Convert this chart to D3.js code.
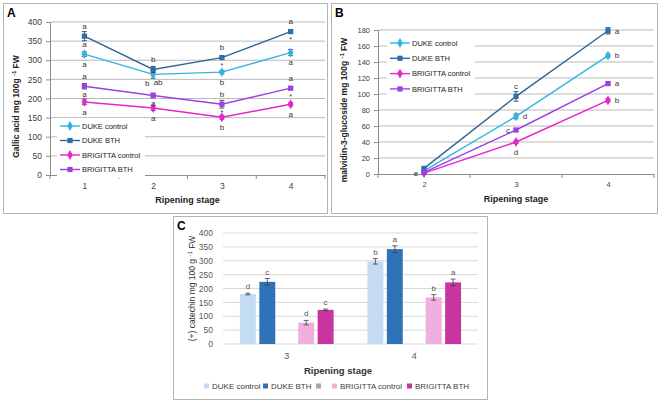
<!DOCTYPE html>
<html>
<head>
<meta charset="utf-8">
<script src="https://cdn.jsdelivr.net/npm/d3@7"></script>
<style>
body { margin: 0; background: #fff; }
text { font-family: "Liberation Sans", Arial, sans-serif; }
</style>
</head>
<body>
<svg></svg>
<script>
/* shared series */
var seriesNames = ["DUKE control", "DUKE BTH", "BRIGITTA control", "BRIGITTA BTH"];
var lineColors = ["#31b4e4", "#2f6594", "#e824cc", "#9b40e6"];
var markerColors = ["#31b4e4", "#2b6fae", "#e824cc", "#9b40e6"];
var markerShapes = ["diamond", "square", "diamond", "square"];

/* panel A - gallic acid */
var stagesA = ["1", "2", "3", "4"];
var gallicDukeCtrl = [316, 263, 269, 320];
var gallicDukeBth = [363, 276, 307, 375];
var gallicBrigCtrl = [191, 175, 151, 185];
var gallicBrigBth = [232, 208, 185, 227];
var gallicErrDukeCtrl = [6, 10, 4, 8];
var gallicErrDukeBth = [12, 8, 4, 4];
var gallicErrBrigCtrl = [7, 6, 5, 4];
var gallicErrBrigBth = [7, 6, 10, 4];
var gallicTicks = [0, 50, 100, 150, 200, 250, 300, 350, 400];
// [series index, stage index, letter, placement]
var gallicLetters = [
  [1, 0, "a", "above"], [1, 0, "a", "mid"], [0, 0, "a", "below"],
  [3, 0, "a", "above"], [3, 0, "a", "mid"], [2, 0, "a", "below"],
  [1, 1, "b", "above"], [0, 1, "b", "belowLeft"],
  [3, 1, "ab", "aboveRight"], [3, 1, "a", "mid"], [2, 1, "a", "below"],
  [1, 2, "b", "above"], [1, 2, "*", "mid"], [0, 2, "b", "below"],
  [3, 2, "b", "above"], [3, 2, "*", "mid"], [2, 2, "b", "below"],
  [1, 3, "a", "above"], [1, 3, "*", "mid"], [0, 3, "a", "below"],
  [3, 3, "a", "above"], [3, 3, "*", "mid"], [2, 3, "a", "below"]
];

/* panel B - malvidin-3-glucoside */
var stagesB = ["2", "3", "4"];
var malvDukeCtrl = [4, 72, 148];
var malvDukeBth = [7, 97, 179];
var malvBrigCtrl = [1, 40, 92];
var malvBrigBth = [2, 55, 113];
var malvErrDukeCtrl = [1, 3, 2];
var malvErrDukeBth = [1, 6, 4];
var malvErrBrigCtrl = [1, 2, 2];
var malvErrBrigBth = [1, 2, 2];
var malvTicks = [0, 20, 40, 60, 80, 100, 120, 140, 160, 180];
var malvLetters = [
  [2, 0, "e", "left"],
  [1, 1, "c", "above"], [0, 1, "d", "right"], [3, 1, "c", "left"], [2, 1, "d", "below"],
  [1, 2, "a", "right"], [0, 2, "b", "right"], [3, 2, "a", "right"], [2, 2, "b", "right"]
];

/* panel C - catechin bars */
var stagesC = ["3", "4"];
var barNames = ["DUKE control", "DUKE BTH", "", "BRIGITTA control", "BRIGITTA BTH"];
var barColors = ["#c3dcf3", "#2e73b8", "#a6a6a6", "#efb0df", "#c8359f"];
var catDukeCtrl = [180, 298];
var catDukeBth = [224, 342];
var catEmpty = [null, null];
var catBrigCtrl = [77, 168];
var catBrigBth = [123, 222];
var catErrDukeCtrl = [3, 10];
var catErrDukeBth = [12, 12];
var catErrBrigCtrl = [8, 10];
var catErrBrigBth = [3, 12];
var catLetters = [["d", "c", "", "d", "c"], ["b", "a", "", "b", "a"]];
var catTicks = [0, 50, 100, 150, 200, 250, 300, 350, 400];

var svg = d3.select("svg").attr("width", 661).attr("height", 402);

function translate(x, y) {
  return "translate(" + x + "," + y + ")";
}

function panelBox(x0, y0, x1, y1, label) {
  svg.append("rect")
      .attr("x", x0 + 0.5).attr("y", y0 + 0.5)
      .attr("width", x1 - x0).attr("height", y1 - y0)
      .attr("fill", "#fff").attr("stroke", "#b4b4b4");
  svg.append("text")
      .attr("x", x0 + 4).attr("y", y0 + 14)
      .attr("font-size", 12).attr("font-weight", "bold")
      .text(label);
}

function yTitle(g, x, y, main, rest, size, weight) {
  var t = g.append("text")
      .attr("transform", translate(x, y) + " rotate(-90)")
      .attr("text-anchor", "middle")
      .attr("font-size", size).attr("font-weight", weight)
      .attr("fill", "#222");
  t.append("tspan").text(main);
  t.append("tspan").attr("dy", -3).attr("font-size", size * 0.7).text("-1");
  t.append("tspan").attr("dy", 3).text(rest);
}

function symbolFor(shape) {
  return shape == "square" ? d3.symbol().type(d3.symbolSquare).size(27)
                           : d3.symbol().type(d3.symbolDiamond).size(28);
}

/* line chart panel (A and B) */
function linePanel(o) {
  var g = svg.append("g");
  var x = d3.scalePoint().domain(o.stages).range([o.left, o.right]).padding(0.5);
  var y = d3.scaleLinear().domain([0, o.max]).range([o.bottom, o.top]);

  g.selectAll("line.grid")
      .data(o.ticks.slice(1))
      .enter().append("line")
      .attr("class", "grid")
      .attr("x1", o.left).attr("x2", o.right)
      .attr("y1", function(d){ return y(d); })
      .attr("y2", function(d){ return y(d); })
      .attr("stroke", "#a8a8a8").attr("stroke-width", 0.8);

  var ya = g.append("g")
      .attr("transform", translate(o.left, 0))
      .call(d3.axisLeft(y).tickValues(o.ticks).tickSize(4).tickPadding(4));
  ya.selectAll("text").attr("font-size", o.tickSize).attr("fill", "#404040")
      .attr("font-family", "Liberation Sans, Arial, sans-serif");

  var xa = g.append("g")
      .attr("transform", translate(0, o.bottom))
      .call(d3.axisBottom(x).tickSize(0).tickPadding(8));
  xa.selectAll("text").attr("font-size", o.tickSize).attr("fill", "#404040")
      .attr("font-family", "Liberation Sans, Arial, sans-serif");
  var step = x.step();
  xa.selectAll("line.bound")
      .data(d3.range(o.stages.length + 1))
      .enter().append("line")
      .attr("class", "bound")
      .attr("x1", function(i){ return o.left + i * step; })
      .attr("x2", function(i){ return o.left + i * step; })
      .attr("y1", 0).attr("y2", 4);
  g.selectAll(".domain, .tick line, line.bound").attr("stroke", "#8c8c8c");

  // legend
  var lg = g.append("g").attr("transform", translate(o.legendX, o.legendY));
  lg.append("rect").attr("x", -3).attr("y", -8)
      .attr("width", 88).attr("height", 4 * o.legendGap + 2)
      .attr("fill", "#fff");
  seriesNames.forEach(function(name, s) {
    var row = lg.append("g").attr("transform", translate(0, s * o.legendGap));
    row.append("line").attr("x1", 0).attr("x2", 20)
        .attr("stroke", lineColors[s]).attr("stroke-width", 1.4);
    row.append("path").attr("d", symbolFor(markerShapes[s])())
        .attr("transform", translate(10, 0)).attr("fill", markerColors[s]);
    row.append("text").attr("x", 22).attr("y", 0).attr("dy", "0.35em")
        .attr("font-size", 7.5).attr("fill", "#222").text(name);
  });

  var line = d3.line()
      .x(function(d, i){ return x(o.stages[i]); })
      .y(function(d){ return y(d); });

  o.series.forEach(function(vals, s) {
    g.append("path").datum(vals)
        .attr("d", line).attr("fill", "none")
        .attr("stroke", lineColors[s]).attr("stroke-width", 1.4);
  });

  o.series.forEach(function(vals, s) {
    var eg = g.append("g").attr("stroke", "#303030").attr("stroke-width", 0.8);
    vals.forEach(function(v, i) {
      var cx = x(o.stages[i]), e = o.errors[s][i];
      eg.append("line").attr("x1", cx).attr("x2", cx).attr("y1", y(v - e)).attr("y2", y(v + e));
      eg.append("line").attr("x1", cx - 2.5).attr("x2", cx + 2.5).attr("y1", y(v - e)).attr("y2", y(v - e));
      eg.append("line").attr("x1", cx - 2.5).attr("x2", cx + 2.5).attr("y1", y(v + e)).attr("y2", y(v + e));
    });
    g.selectAll(null).data(vals).enter().append("path")
        .attr("d", symbolFor(markerShapes[s])())
        .attr("transform", function(d, i){ return translate(x(o.stages[i]), y(d)); })
        .attr("fill", markerColors[s]);
  });

  var place = {
    above: [0, -10, "middle"], below: [0, 10, "middle"], mid: [0, 8, "middle"],
    left: [-8, 0, "middle"], right: [9, 0, "middle"],
    belowLeft: [-6, 9, "middle"], aboveRight: [5, -13, "middle"]
  };
  o.letters.forEach(function(l) {
    var p = place[l[3]];
    var v = o.series[l[0]][l[1]];
    g.append("text")
        .attr("x", x(o.stages[l[1]]) + p[0])
        .attr("y", y(v) + p[1])
        .attr("dy", "0.35em")
        .attr("text-anchor", p[2])
        .attr("font-size", l[2] == "*" ? 7 : 8)
        .attr("fill", "#333")
        .text(l[2]);
  });

  yTitle(g, o.titleX, (o.top + o.bottom) / 2 + 8, o.yTitle, o.yTitleRest, 8.5, "bold");
  g.append("text")
      .attr("x", (o.left + o.right) / 2).attr("y", o.bottom + 28)
      .attr("text-anchor", "middle")
      .attr("font-size", 9).attr("font-weight", "bold").attr("fill", "#222")
      .text("Ripening stage");
}

panelBox(3, 3, 327, 213, "A");
panelBox(331, 3, 657, 213, "B");
panelBox(173, 216, 487, 399, "C");

linePanel({
  stages: stagesA, max: 400, ticks: gallicTicks,
  left: 50, right: 325, top: 22, bottom: 175, tickSize: 8.5,
  series: [gallicDukeCtrl, gallicDukeBth, gallicBrigCtrl, gallicBrigBth],
  errors: [gallicErrDukeCtrl, gallicErrDukeBth, gallicErrBrigCtrl, gallicErrBrigBth],
  letters: gallicLetters,
  legendX: 60, legendY: 126, legendGap: 14.5,
  titleX: 19, yTitle: "Gallic acid mg 100g ", yTitleRest: " FW"
});

linePanel({
  stages: stagesB, max: 180, ticks: malvTicks,
  left: 378, right: 654, top: 30, bottom: 174, tickSize: 7.5,
  series: [malvDukeCtrl, malvDukeBth, malvBrigCtrl, malvBrigBth],
  errors: [malvErrDukeCtrl, malvErrDukeBth, malvErrBrigCtrl, malvErrBrigBth],
  letters: malvLetters,
  legendX: 390, legendY: 43, legendGap: 15.3,
  titleX: 347, yTitle: "malvidin-3-glucoside mg 100g ", yTitleRest: " FW"
});

/* panel C bars */
(function() {
  var g = svg.append("g");
  var left = 223, right = 478, top = 233, bottom = 344;
  var series = [catDukeCtrl, catDukeBth, catEmpty, catBrigCtrl, catBrigBth];
  var errors = [catErrDukeCtrl, catErrDukeBth, [0, 0], catErrBrigCtrl, catErrBrigBth];
  var x0 = d3.scaleBand().domain(stagesC).range([left, right]);
  var x1 = d3.scaleBand().domain(d3.range(barNames.length))
      .range([0, x0.bandwidth()]).paddingInner(0.18).paddingOuter(0.87);
  var y = d3.scaleLinear().domain([0, 400]).range([bottom, top]);

  g.selectAll("line.grid").data(catTicks).enter().append("line")
      .attr("x1", left).attr("x2", right)
      .attr("y1", function(d){ return y(d); }).attr("y2", function(d){ return y(d); })
      .attr("stroke", "#d9d9d9").attr("stroke-width", 1);

  var ya = g.append("g").attr("transform", translate(left - 7, 0))
      .call(d3.axisLeft(y).tickValues(catTicks).tickSize(0).tickPadding(3));
  ya.select(".domain").remove();
  ya.selectAll("text").attr("font-size", 8.5).attr("fill", "#595959")
      .attr("font-family", "Liberation Sans, Arial, sans-serif");

  var xa = g.append("g").attr("transform", translate(0, bottom))
      .call(d3.axisBottom(x0).tickSize(0).tickPadding(9));
  xa.select(".domain").remove();
  xa.selectAll("text").attr("font-size", 9).attr("fill", "#595959")
      .attr("font-family", "Liberation Sans, Arial, sans-serif");

  stagesC.forEach(function(st, i) {
    series.forEach(function(vals, s) {
      var v = vals[i];
      if (v == null) return;
      var bx = x0(st) + x1(s), bw = x1.bandwidth(), e = errors[s][i];
      g.append("rect").attr("x", bx).attr("y", y(v))
          .attr("width", bw).attr("height", y(0) - y(v))
          .attr("fill", barColors[s]);
      var cx = bx + bw / 2;
      var eg = g.append("g").attr("stroke", "#404040").attr("stroke-width", 0.8);
      eg.append("line").attr("x1", cx).attr("x2", cx).attr("y1", y(v - e)).attr("y2", y(v + e));
      eg.append("line").attr("x1", cx - 2.5).attr("x2", cx + 2.5).attr("y1", y(v - e)).attr("y2", y(v - e));
      eg.append("line").attr("x1", cx - 2.5).attr("x2", cx + 2.5).attr("y1", y(v + e)).attr("y2", y(v + e));
      g.append("text").attr("x", cx).attr("y", y(v + e) - 4)
          .attr("text-anchor", "middle").attr("font-size", 8).attr("fill", "#555")
          .text(catLetters[i][s]);
    });
  });

  var t = g.append("text")
      .attr("transform", translate(195, (top + bottom) / 2) + " rotate(-90)")
      .attr("text-anchor", "middle").attr("font-size", 8.5).attr("fill", "#333");
  t.append("tspan").text("(+) catechin mg 100 g ");
  t.append("tspan").attr("dy", -3).attr("font-size", 6).text("-1");
  t.append("tspan").attr("dy", 3).text(" FW");

  g.append("text").attr("x", 338).attr("y", 374)
      .attr("text-anchor", "middle").attr("font-size", 9.5).attr("font-weight", "bold")
      .attr("fill", "#333").text("Ripening stage");

  var legendX = [204, 263, 316, 332, 407];
  var lg = g.append("g").attr("transform", translate(0, 386));
  barNames.forEach(function(name, s) {
    lg.append("rect").attr("x", legendX[s]).attr("y", -2.5)
        .attr("width", 5).attr("height", 5).attr("fill", barColors[s]);
    lg.append("text").attr("x", legendX[s] + 8).attr("dy", "0.35em")
        .attr("font-size", 8).attr("fill", "#404040").text(name);
  });
})();
</script>
</body>
</html>
